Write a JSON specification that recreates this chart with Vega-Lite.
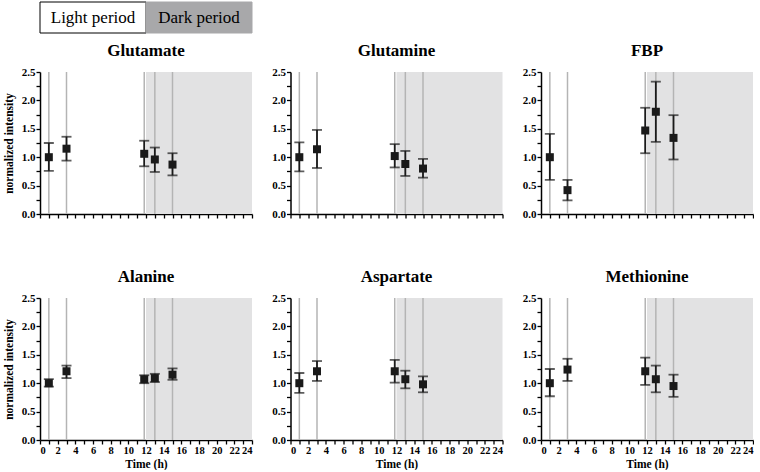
{
"$schema":"https://vega.github.io/schema/vega-lite/v6.json",
"padding":{"left":3,"top":1,"right":0,"bottom":0},
"datasets":{
"periods":[{"t":0,"t2":12,"mid":6,"label":"Light period"},{"t":12,"t2":24,"mid":18,"label":"Dark period"}],
"times":[{"t":1},{"t":3},{"t":11.8},{"t":13},{"t":15}],
"pts":[
{"m":"Glutamate","t":1,"k":"mean","v":1.00},{"m":"Glutamate","t":1,"k":"lo","v":0.76},{"m":"Glutamate","t":1,"k":"hi","v":1.25},
{"m":"Glutamate","t":3,"k":"mean","v":1.15},{"m":"Glutamate","t":3,"k":"lo","v":0.94},{"m":"Glutamate","t":3,"k":"hi","v":1.36},
{"m":"Glutamate","t":11.8,"k":"mean","v":1.06},{"m":"Glutamate","t":11.8,"k":"lo","v":0.84},{"m":"Glutamate","t":11.8,"k":"hi","v":1.29},
{"m":"Glutamate","t":13,"k":"mean","v":0.96},{"m":"Glutamate","t":13,"k":"lo","v":0.74},{"m":"Glutamate","t":13,"k":"hi","v":1.17},
{"m":"Glutamate","t":15,"k":"mean","v":0.87},{"m":"Glutamate","t":15,"k":"lo","v":0.68},{"m":"Glutamate","t":15,"k":"hi","v":1.07},
{"m":"Glutamine","t":1,"k":"mean","v":1.00},{"m":"Glutamine","t":1,"k":"lo","v":0.75},{"m":"Glutamine","t":1,"k":"hi","v":1.26},
{"m":"Glutamine","t":3,"k":"mean","v":1.14},{"m":"Glutamine","t":3,"k":"lo","v":0.81},{"m":"Glutamine","t":3,"k":"hi","v":1.48},
{"m":"Glutamine","t":11.8,"k":"mean","v":1.02},{"m":"Glutamine","t":11.8,"k":"lo","v":0.82},{"m":"Glutamine","t":11.8,"k":"hi","v":1.23},
{"m":"Glutamine","t":13,"k":"mean","v":0.88},{"m":"Glutamine","t":13,"k":"lo","v":0.67},{"m":"Glutamine","t":13,"k":"hi","v":1.11},
{"m":"Glutamine","t":15,"k":"mean","v":0.80},{"m":"Glutamine","t":15,"k":"lo","v":0.64},{"m":"Glutamine","t":15,"k":"hi","v":0.97},
{"m":"FBP","t":1,"k":"mean","v":1.00},{"m":"FBP","t":1,"k":"lo","v":0.60},{"m":"FBP","t":1,"k":"hi","v":1.41},
{"m":"FBP","t":3,"k":"mean","v":0.42},{"m":"FBP","t":3,"k":"lo","v":0.24},{"m":"FBP","t":3,"k":"hi","v":0.60},
{"m":"FBP","t":11.8,"k":"mean","v":1.47},{"m":"FBP","t":11.8,"k":"lo","v":1.07},{"m":"FBP","t":11.8,"k":"hi","v":1.87},
{"m":"FBP","t":13,"k":"mean","v":1.80},{"m":"FBP","t":13,"k":"lo","v":1.27},{"m":"FBP","t":13,"k":"hi","v":2.33},
{"m":"FBP","t":15,"k":"mean","v":1.34},{"m":"FBP","t":15,"k":"lo","v":0.96},{"m":"FBP","t":15,"k":"hi","v":1.74},
{"m":"Alanine","t":1,"k":"mean","v":1.00},{"m":"Alanine","t":1,"k":"lo","v":0.94},{"m":"Alanine","t":1,"k":"hi","v":1.07},
{"m":"Alanine","t":3,"k":"mean","v":1.21},{"m":"Alanine","t":3,"k":"lo","v":1.09},{"m":"Alanine","t":3,"k":"hi","v":1.31},
{"m":"Alanine","t":11.8,"k":"mean","v":1.07},{"m":"Alanine","t":11.8,"k":"lo","v":1.00},{"m":"Alanine","t":11.8,"k":"hi","v":1.14},
{"m":"Alanine","t":13,"k":"mean","v":1.09},{"m":"Alanine","t":13,"k":"lo","v":1.02},{"m":"Alanine","t":13,"k":"hi","v":1.165},
{"m":"Alanine","t":15,"k":"mean","v":1.15},{"m":"Alanine","t":15,"k":"lo","v":1.06},{"m":"Alanine","t":15,"k":"hi","v":1.26},
{"m":"Aspartate","t":1,"k":"mean","v":1.00},{"m":"Aspartate","t":1,"k":"lo","v":0.83},{"m":"Aspartate","t":1,"k":"hi","v":1.18},
{"m":"Aspartate","t":3,"k":"mean","v":1.21},{"m":"Aspartate","t":3,"k":"lo","v":1.04},{"m":"Aspartate","t":3,"k":"hi","v":1.39},
{"m":"Aspartate","t":11.8,"k":"mean","v":1.21},{"m":"Aspartate","t":11.8,"k":"lo","v":1.01},{"m":"Aspartate","t":11.8,"k":"hi","v":1.41},
{"m":"Aspartate","t":13,"k":"mean","v":1.07},{"m":"Aspartate","t":13,"k":"lo","v":0.91},{"m":"Aspartate","t":13,"k":"hi","v":1.22},
{"m":"Aspartate","t":15,"k":"mean","v":0.98},{"m":"Aspartate","t":15,"k":"lo","v":0.84},{"m":"Aspartate","t":15,"k":"hi","v":1.12},
{"m":"Methionine","t":1,"k":"mean","v":1.00},{"m":"Methionine","t":1,"k":"lo","v":0.77},{"m":"Methionine","t":1,"k":"hi","v":1.25},
{"m":"Methionine","t":3,"k":"mean","v":1.24},{"m":"Methionine","t":3,"k":"lo","v":1.04},{"m":"Methionine","t":3,"k":"hi","v":1.43},
{"m":"Methionine","t":11.8,"k":"mean","v":1.21},{"m":"Methionine","t":11.8,"k":"lo","v":0.97},{"m":"Methionine","t":11.8,"k":"hi","v":1.45},
{"m":"Methionine","t":13,"k":"mean","v":1.07},{"m":"Methionine","t":13,"k":"lo","v":0.84},{"m":"Methionine","t":13,"k":"hi","v":1.31},
{"m":"Methionine","t":15,"k":"mean","v":0.95},{"m":"Methionine","t":15,"k":"lo","v":0.76},{"m":"Methionine","t":15,"k":"hi","v":1.15}
]},
"spacing":8,
"vconcat":[
{"width":212,"height":31,"data":{"name":"periods"},"encoding":{"x":{"field":"t","type":"quantitative","scale":{"domain":[0,24],"nice":false},"axis":null}},"layer":[
{"mark":{"type":"rect","strokeWidth":1},"encoding":{"x2":{"field":"t2"},"fill":{"field":"label","type":"nominal","scale":{"domain":["Light period","Dark period"],"range":["#ffffff","#a8a8aa"]},"legend":null},"stroke":{"field":"label","type":"nominal","scale":{"domain":["Light period","Dark period"],"range":["#000000","#a8a8aa"]},"legend":null}}},
{"mark":{"type":"text","fontSize":17,"font":"Liberation Serif","color":"#000000"},"encoding":{"x":{"field":"mid","type":"quantitative","axis":null},"text":{"field":"label"}}}
]},
{"spacing":18.5,"hconcat":[
{"width":212,"height":142,"title":"Glutamate",
"encoding":{"x":{"field":"t","type":"quantitative","title":"Time (h)","scale":{"domain":[0,24],"nice":false},"axis":{"values":[0,1,2,3,4,5,6,7,8,9,10,11,12,13,14,15,16,17,18,19,20,21,22,23,24],"labelExpr":"datum.value%2==0 ? datum.label : ''","labelOpacity":0,"titleOpacity":0,"titlePadding":19}}},
"layer":[
{"data":{"name":"periods"},"transform":[{"filter":"datum.label==='Dark period'"}],"mark":{"type":"rect","color":"#e2e2e3"},"encoding":{"x2":{"field":"t2"}}},
{"data":{"name":"times"},"mark":{"type":"rule","color":"#b4b4b4","strokeWidth":1.5},"encoding":{}},
{"data":{"name":"pts"},"transform":[{"filter":"datum.m==='Glutamate'"}],
"encoding":{"y":{"field":"v","type":"quantitative","title":"normalized intensity","scale":{"domain":[0,2.5],"nice":false},"axis":{"values":[0,0.25,0.5,0.75,1,1.25,1.5,1.75,2,2.25,2.5],"labelExpr":"(datum.value*4)%2==0 ? format(datum.value,'.1f') : ''"}}},
"layer":[
{"transform":[{"filter":"datum.k!=='mean'"}],"mark":{"type":"line","color":"#1a1a1a","strokeWidth":1.8},"encoding":{"detail":{"field":"t","type":"nominal"}}},
{"transform":[{"filter":"datum.k!=='mean'"}],"mark":{"type":"tick","orient":"horizontal","size":10,"thickness":1.8,"color":"#1a1a1a"},"encoding":{}},
{"transform":[{"filter":"datum.k==='mean'"}],"mark":{"type":"point","shape":"square","filled":true,"size":64,"color":"#1a1a1a","opacity":1},"encoding":{}}
]}]},
{"width":212,"height":142,"title":"Glutamine",
"encoding":{"x":{"field":"t","type":"quantitative","title":"Time (h)","scale":{"domain":[0,24],"nice":false},"axis":{"values":[0,1,2,3,4,5,6,7,8,9,10,11,12,13,14,15,16,17,18,19,20,21,22,23,24],"labelExpr":"datum.value%2==0 ? datum.label : ''","labelOpacity":0,"titleOpacity":0,"titlePadding":19}}},
"layer":[
{"data":{"name":"periods"},"transform":[{"filter":"datum.label==='Dark period'"}],"mark":{"type":"rect","color":"#e2e2e3"},"encoding":{"x2":{"field":"t2"}}},
{"data":{"name":"times"},"mark":{"type":"rule","color":"#b4b4b4","strokeWidth":1.5},"encoding":{}},
{"data":{"name":"pts"},"transform":[{"filter":"datum.m==='Glutamine'"}],
"encoding":{"y":{"field":"v","type":"quantitative","title":null,"scale":{"domain":[0,2.5],"nice":false},"axis":{"values":[0,0.25,0.5,0.75,1,1.25,1.5,1.75,2,2.25,2.5],"labelExpr":"(datum.value*4)%2==0 ? format(datum.value,'.1f') : ''"}}},
"layer":[
{"transform":[{"filter":"datum.k!=='mean'"}],"mark":{"type":"line","color":"#1a1a1a","strokeWidth":1.8},"encoding":{"detail":{"field":"t","type":"nominal"}}},
{"transform":[{"filter":"datum.k!=='mean'"}],"mark":{"type":"tick","orient":"horizontal","size":10,"thickness":1.8,"color":"#1a1a1a"},"encoding":{}},
{"transform":[{"filter":"datum.k==='mean'"}],"mark":{"type":"point","shape":"square","filled":true,"size":64,"color":"#1a1a1a","opacity":1},"encoding":{}}
]}]},
{"width":212,"height":142,"title":"FBP",
"encoding":{"x":{"field":"t","type":"quantitative","title":"Time (h)","scale":{"domain":[0,24],"nice":false},"axis":{"values":[0,1,2,3,4,5,6,7,8,9,10,11,12,13,14,15,16,17,18,19,20,21,22,23,24],"labelExpr":"datum.value%2==0 ? datum.label : ''","labelOpacity":0,"titleOpacity":0,"titlePadding":19}}},
"layer":[
{"data":{"name":"periods"},"transform":[{"filter":"datum.label==='Dark period'"}],"mark":{"type":"rect","color":"#e2e2e3"},"encoding":{"x2":{"field":"t2"}}},
{"data":{"name":"times"},"mark":{"type":"rule","color":"#b4b4b4","strokeWidth":1.5},"encoding":{}},
{"data":{"name":"pts"},"transform":[{"filter":"datum.m==='FBP'"}],
"encoding":{"y":{"field":"v","type":"quantitative","title":null,"scale":{"domain":[0,2.5],"nice":false},"axis":{"values":[0,0.25,0.5,0.75,1,1.25,1.5,1.75,2,2.25,2.5],"labelExpr":"(datum.value*4)%2==0 ? format(datum.value,'.1f') : ''"}}},
"layer":[
{"transform":[{"filter":"datum.k!=='mean'"}],"mark":{"type":"line","color":"#1a1a1a","strokeWidth":1.8},"encoding":{"detail":{"field":"t","type":"nominal"}}},
{"transform":[{"filter":"datum.k!=='mean'"}],"mark":{"type":"tick","orient":"horizontal","size":10,"thickness":1.8,"color":"#1a1a1a"},"encoding":{}},
{"transform":[{"filter":"datum.k==='mean'"}],"mark":{"type":"point","shape":"square","filled":true,"size":64,"color":"#1a1a1a","opacity":1},"encoding":{}}
]}]}
]},
{"spacing":18.5,"hconcat":[
{"width":212,"height":142,"title":"Alanine",
"encoding":{"x":{"field":"t","type":"quantitative","title":"Time (h)","scale":{"domain":[0,24],"nice":false},"axis":{"values":[0,1,2,3,4,5,6,7,8,9,10,11,12,13,14,15,16,17,18,19,20,21,22,23,24],"labelExpr":"datum.value%2==0 ? datum.label : ''"}}},
"layer":[
{"data":{"name":"periods"},"transform":[{"filter":"datum.label==='Dark period'"}],"mark":{"type":"rect","color":"#e2e2e3"},"encoding":{"x2":{"field":"t2"}}},
{"data":{"name":"times"},"mark":{"type":"rule","color":"#b4b4b4","strokeWidth":1.5},"encoding":{}},
{"data":{"name":"pts"},"transform":[{"filter":"datum.m==='Alanine'"}],
"encoding":{"y":{"field":"v","type":"quantitative","title":"normalized intensity","scale":{"domain":[0,2.5],"nice":false},"axis":{"values":[0,0.25,0.5,0.75,1,1.25,1.5,1.75,2,2.25,2.5],"labelExpr":"(datum.value*4)%2==0 ? format(datum.value,'.1f') : ''"}}},
"layer":[
{"transform":[{"filter":"datum.k!=='mean'"}],"mark":{"type":"line","color":"#1a1a1a","strokeWidth":1.8},"encoding":{"detail":{"field":"t","type":"nominal"}}},
{"transform":[{"filter":"datum.k!=='mean'"}],"mark":{"type":"tick","orient":"horizontal","size":10,"thickness":1.8,"color":"#1a1a1a"},"encoding":{}},
{"transform":[{"filter":"datum.k==='mean'"}],"mark":{"type":"point","shape":"square","filled":true,"size":64,"color":"#1a1a1a","opacity":1},"encoding":{}}
]}]},
{"width":212,"height":142,"title":"Aspartate",
"encoding":{"x":{"field":"t","type":"quantitative","title":"Time (h)","scale":{"domain":[0,24],"nice":false},"axis":{"values":[0,1,2,3,4,5,6,7,8,9,10,11,12,13,14,15,16,17,18,19,20,21,22,23,24],"labelExpr":"datum.value%2==0 ? datum.label : ''"}}},
"layer":[
{"data":{"name":"periods"},"transform":[{"filter":"datum.label==='Dark period'"}],"mark":{"type":"rect","color":"#e2e2e3"},"encoding":{"x2":{"field":"t2"}}},
{"data":{"name":"times"},"mark":{"type":"rule","color":"#b4b4b4","strokeWidth":1.5},"encoding":{}},
{"data":{"name":"pts"},"transform":[{"filter":"datum.m==='Aspartate'"}],
"encoding":{"y":{"field":"v","type":"quantitative","title":null,"scale":{"domain":[0,2.5],"nice":false},"axis":{"values":[0,0.25,0.5,0.75,1,1.25,1.5,1.75,2,2.25,2.5],"labelExpr":"(datum.value*4)%2==0 ? format(datum.value,'.1f') : ''"}}},
"layer":[
{"transform":[{"filter":"datum.k!=='mean'"}],"mark":{"type":"line","color":"#1a1a1a","strokeWidth":1.8},"encoding":{"detail":{"field":"t","type":"nominal"}}},
{"transform":[{"filter":"datum.k!=='mean'"}],"mark":{"type":"tick","orient":"horizontal","size":10,"thickness":1.8,"color":"#1a1a1a"},"encoding":{}},
{"transform":[{"filter":"datum.k==='mean'"}],"mark":{"type":"point","shape":"square","filled":true,"size":64,"color":"#1a1a1a","opacity":1},"encoding":{}}
]}]},
{"width":212,"height":142,"title":"Methionine",
"encoding":{"x":{"field":"t","type":"quantitative","title":"Time (h)","scale":{"domain":[0,24],"nice":false},"axis":{"values":[0,1,2,3,4,5,6,7,8,9,10,11,12,13,14,15,16,17,18,19,20,21,22,23,24],"labelExpr":"datum.value%2==0 ? datum.label : ''"}}},
"layer":[
{"data":{"name":"periods"},"transform":[{"filter":"datum.label==='Dark period'"}],"mark":{"type":"rect","color":"#e2e2e3"},"encoding":{"x2":{"field":"t2"}}},
{"data":{"name":"times"},"mark":{"type":"rule","color":"#b4b4b4","strokeWidth":1.5},"encoding":{}},
{"data":{"name":"pts"},"transform":[{"filter":"datum.m==='Methionine'"}],
"encoding":{"y":{"field":"v","type":"quantitative","title":null,"scale":{"domain":[0,2.5],"nice":false},"axis":{"values":[0,0.25,0.5,0.75,1,1.25,1.5,1.75,2,2.25,2.5],"labelExpr":"(datum.value*4)%2==0 ? format(datum.value,'.1f') : ''"}}},
"layer":[
{"transform":[{"filter":"datum.k!=='mean'"}],"mark":{"type":"line","color":"#1a1a1a","strokeWidth":1.8},"encoding":{"detail":{"field":"t","type":"nominal"}}},
{"transform":[{"filter":"datum.k!=='mean'"}],"mark":{"type":"tick","orient":"horizontal","size":10,"thickness":1.8,"color":"#1a1a1a"},"encoding":{}},
{"transform":[{"filter":"datum.k==='mean'"}],"mark":{"type":"point","shape":"square","filled":true,"size":64,"color":"#1a1a1a","opacity":1},"encoding":{}}
]}]}
]}
],
"config":{
"view":{"stroke":null},
"font":"Liberation Serif",
"axis":{"domainColor":"#000000","domainWidth":1.5,"tickColor":"#000000","tickWidth":1.3,"tickSize":4,"labelColor":"#000000","labelFont":"Liberation Serif","labelFontWeight":"bold","labelFontSize":11,"labelPadding":1,"labelOverlap":false,"titleFont":"Liberation Serif","titleFontWeight":"bold","titleFontSize":11.5,"titleColor":"#000000","grid":false},
"axisY":{"titlePadding":7},
"axisX":{"titlePadding":3,"labelFontSize":10.5},
"title":{"font":"Liberation Serif","fontSize":17,"fontWeight":"bold","color":"#000000","offset":6}
}
}
